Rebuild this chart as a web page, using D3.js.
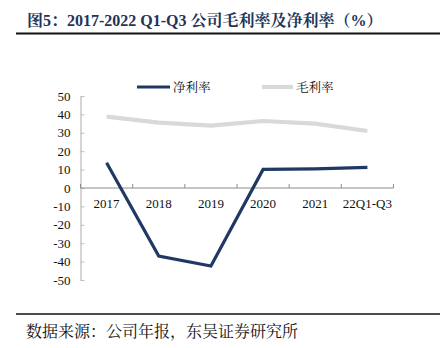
<!DOCTYPE html>
<html><head><meta charset="utf-8">
<script src="https://cdn.jsdelivr.net/npm/d3@7"></script>
<style>body{margin:0;background:#fff;}svg{display:block;}</style>
</head><body>
<svg id="c" width="440" height="348"></svg>
<script>
const categories = ["2017","2018","2019","2020","2021","22Q1-Q3"];
const netMargin = [13.7, -37.0, -42.4, 10.1, 10.4, 11.2];
const grossMargin = [38.8, 35.5, 33.9, 36.4, 35.0, 31.0];
const yTicks = [50,40,30,20,10,0,-10,-20,-30,-40,-50];
const seriesNames = ["净利率","毛利率"];

const svg = d3.select("#c");
const serif = "'Liberation Serif','Times New Roman','Noto Serif CJK SC','Noto Sans CJK SC',serif";

// title
svg.append("text").attr("x",27).attr("y",26)
  .attr("font-family",serif).attr("font-weight","bold").attr("font-size",16)
  .attr("fill","#1f3458")
  .text("图5：2017-2022 Q1-Q3 公司毛利率及净利率（%）");
svg.append("line").attr("x1",16).attr("x2",440).attr("y1",33.5).attr("y2",33.5)
  .attr("stroke","#111").attr("stroke-width",2);

// footer
svg.append("line").attr("x1",16).attr("x2",440).attr("y1",314).attr("y2",314)
  .attr("stroke","#111").attr("stroke-width",1.5);
svg.append("text").attr("x",26).attr("y",337)
  .attr("font-family",serif).attr("font-size",16).attr("fill","#111")
  .text("数据来源：公司年报，东吴证券研究所");

const x = d3.scaleBand().domain(categories).range([80.5,393.5]);
const y = d3.scaleLinear().domain([-50,50]).range([280,96]);
const axisColor = "#bfbfbf";

// y axis
const ya = svg.append("g").attr("transform","translate(80.5,0)")
  .call(d3.axisLeft(y).tickValues(yTicks).tickSize(0).tickPadding(10).tickFormat(d=>String(d)));
ya.select(".domain").attr("stroke",axisColor).attr("stroke-width",1.3);
ya.selectAll("text").attr("font-family",serif).attr("font-size",13).attr("fill","#111");
ya.selectAll(".tick").append("line").attr("x1",0).attr("x2",4).attr("stroke",axisColor).attr("stroke-width",1);

// x axis at zero
const xa = svg.append("g").attr("transform",`translate(0,${y(0)})`);
xa.append("line").attr("x1",80.5).attr("x2",393.5).attr("y1",0).attr("y2",0)
  .attr("stroke","#8c8c8c").attr("stroke-width",1);
const edges = categories.map(c=>x(c)).concat([x.range()[1]]);
xa.selectAll("line.tk").data(edges).enter().append("line").attr("class","tk")
  .attr("x1",d=>d).attr("x2",d=>d).attr("y1",0).attr("y2",-4)
  .attr("stroke","#8c8c8c").attr("stroke-width",1);
xa.selectAll("text").data(categories).enter().append("text")
  .attr("x",d=>x(d)+x.bandwidth()/2).attr("y",20)
  .attr("text-anchor","middle").attr("font-family",serif).attr("font-size",13).attr("fill","#111")
  .text(d=>d);

const line = d3.line().x((d,i)=>x(categories[i])+x.bandwidth()/2).y(d=>y(d));
svg.append("path").datum(grossMargin).attr("d",line).attr("fill","none")
  .attr("stroke","#d9d9d9").attr("stroke-width",4.2).attr("stroke-linejoin","round");
svg.append("path").datum(netMargin).attr("d",line).attr("fill","none")
  .attr("stroke","#1f3864").attr("stroke-width",3.2).attr("stroke-linejoin","miter");

// legend
const leg = [{name:seriesNames[0],color:"#1f3864",w:3.2,x1:137,x2:170},
             {name:seriesNames[1],color:"#d9d9d9",w:4.2,x1:262,x2:293}];
leg.forEach(l=>{
  svg.append("line").attr("x1",l.x1).attr("x2",l.x2).attr("y1",87).attr("y2",87)
    .attr("stroke",l.color).attr("stroke-width",l.w);
  svg.append("text").attr("x",l.x2+3).attr("y",91.5).attr("font-family",serif)
    .attr("font-size",12.5).attr("fill","#111").text(l.name);
});
</script>
</body></html>
